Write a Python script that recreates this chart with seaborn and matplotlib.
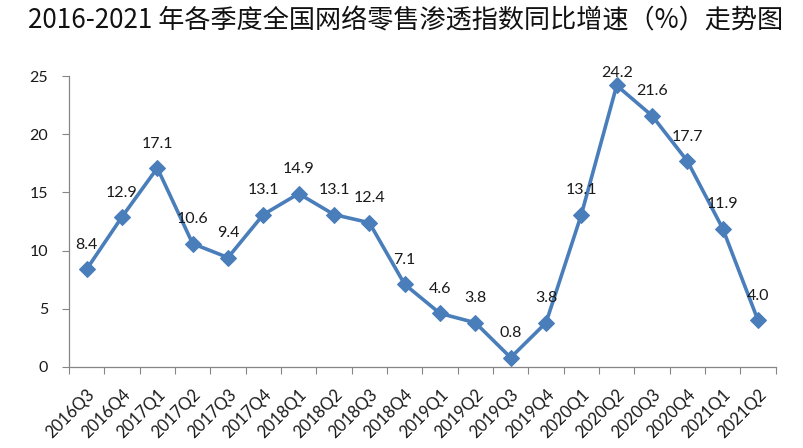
import matplotlib
matplotlib.use("Agg")
import matplotlib.pyplot as plt
import seaborn as sns
import pandas as pd
import numpy as np
from matplotlib.ticker import FixedLocator

quarters = ["2016Q3", "2016Q4", "2017Q1", "2017Q2", "2017Q3", "2017Q4",
            "2018Q1", "2018Q2", "2018Q3", "2018Q4", "2019Q1", "2019Q2",
            "2019Q3", "2019Q4", "2020Q1", "2020Q2", "2020Q3", "2020Q4",
            "2021Q1", "2021Q2"]
growth = [8.4, 12.9, 17.1, 10.6, 9.4, 13.1, 14.9, 13.1, 12.4, 7.1,
          4.6, 3.8, 0.8, 3.8, 13.1, 24.2, 21.6, 17.7, 11.9, 4.0]
value_labels = ["8.4", "12.9", "17.1", "10.6", "9.4", "13.1", "14.9", "13.1", "12.4", "7.1",
                "4.6", "3.8", "0.8", "3.8", "13.1", "24.2", "21.6", "17.7", "11.9", "4.0"]
y_ticks = [0, 5, 10, 15, 20, 25]
title = "2016-2021 年各季度全国网络零售渗透指数同比增速（%）走势图"

# label vertical offsets in points (style only)
label_dy = [17.5] * len(growth)
label_dy[15] = 9

sns.set_theme(style="white")
plt.rcParams["font.family"] = ["Lato", "DejaVu Sans"]

df = pd.DataFrame({"quarter": quarters, "growth": growth})
df["pos"] = np.arange(len(df))

fig = plt.figure(figsize=(8.04, 4.48), dpi=100)
ax = fig.add_axes([0.0858, 0.181, 0.879, 0.649])

color = "#4A7EBB"
sns.lineplot(data=df, x="pos", y="growth", ax=ax, color=color, linewidth=2.6,
             marker="D", markersize=8.5, markeredgecolor=color,
             markerfacecolor=color, sort=False)

for i, (v, lab) in enumerate(zip(growth, value_labels)):
    ax.annotate(lab, (i, v), xytext=(0, label_dy[i]), textcoords="offset points",
                ha="center", va="center", fontsize=11.5, color="#1a1a1a")

ax.set_xlim(-0.5, len(quarters) - 0.5)
ax.set_ylim(0, 25)
ax.set_yticks(y_ticks)
ax.set_yticklabels([str(t) for t in y_ticks], fontsize=11.5, color="#1a1a1a")

ax.set_xticks(np.arange(len(quarters)))
ax.set_xticklabels(quarters, rotation=45, ha="right", va="top",
                   rotation_mode="anchor", fontsize=12, color="#1a1a1a")
ax.xaxis.set_minor_locator(FixedLocator(np.arange(-0.5, len(quarters), 1.0)))
ax.tick_params(axis="x", which="major", length=0, pad=14)
ax.tick_params(axis="x", which="minor", length=5, width=0.8, color="#868686",
               direction="out", bottom=True)
ax.tick_params(axis="y", which="major", length=5, width=0.8, color="#868686",
               direction="out", left=True, pad=10)

for s in ["top", "right"]:
    ax.spines[s].set_visible(False)
for s in ["left", "bottom"]:
    ax.spines[s].set_color("#868686")
    ax.spines[s].set_linewidth(0.9)

ax.set_xlabel("")
ax.set_ylabel("")
ax.grid(False)

fig.text(0.504, 0.953, title, ha="center", va="center", fontsize=18.8,
         family=["Noto Sans CJK SC", "DejaVu Sans"], color="#111111")

fig.savefig("out.png", dpi=100)
